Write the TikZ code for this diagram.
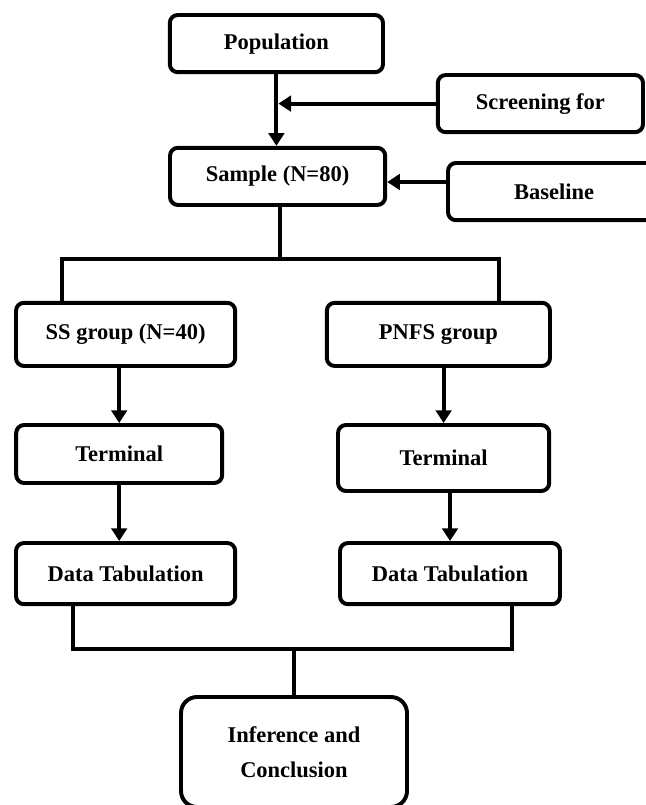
\documentclass[tikz,border=0pt]{standalone}
\usepackage{fontspec}
\setmainfont{Liberation Serif}
\usetikzlibrary{arrows.meta}
\begin{document}
\begin{tikzpicture}[line width=2.8pt]
            %
            % `block' is used for all the boxes.
            % `wire' is used for plain joining lines.
            % `flow' is used for the arrows.
            \tikzstyle{block} = [draw,fill=white,rounded corners=2mm,align=center,
                font=\fontsize{16}{25}\selectfont\bfseries,inner sep=0pt]
            \tikzstyle{wire} = [draw,line cap=rect]
            \tikzstyle{flow} = [draw,-{Triangle[width=11pt,length=9pt]}]
            \useasboundingbox (0,0) rectangle (16.125,-20.125);
            %
            % Top row
            \node[block,minimum width=5.33cm,minimum height=1.43cm] (pop) at (6.91,-1.09) {Population};
            \node[block,minimum width=5.13cm,minimum height=1.43cm] (screen) at (13.51,-2.59) {Screening for};
            \node[block,minimum width=5.38cm,minimum height=1.43cm] (sample) at (6.94,-4.41) {Sample (N=80)};
            \node[block,minimum width=5.3cm,minimum height=1.43cm] (baseline) at (13.85,-4.79) {Baseline};
            %
            % Groups
            \node[block,minimum width=5.48cm,minimum height=1.58cm] (ss) at (3.14,-8.36) {SS group (N=40)};
            \node[block,minimum width=5.58cm,minimum height=1.58cm] (pnfs) at (10.96,-8.36) {PNFS group};
            \node[block,minimum width=5.15cm,minimum height=1.45cm] (term1) at (2.98,-11.35) {Terminal};
            \node[block,minimum width=5.28cm,minimum height=1.65cm] (term2) at (11.09,-11.45) {Terminal};
            \node[block,minimum width=5.48cm,minimum height=1.53cm] (dt1) at (3.14,-14.34) {Data Tabulation};
            \node[block,minimum width=5.5cm,minimum height=1.53cm] (dt2) at (11.25,-14.34) {Data Tabulation};
            %
            % Last box
            \node[block,rounded corners=4mm,minimum width=5.65cm,minimum height=2.75cm] (inf) at (7.35,-18.8) {Inference and\\Conclusion};
            %
            % Joints
            \coordinate (split) at (7.0,-6.475);
            \coordinate (bl) at (1.55,-6.475);
            \coordinate (br) at (12.475,-6.475);
            \coordinate (jl) at (1.825,-16.225);
            \coordinate (jr) at (12.8,-16.225);
            \coordinate (jm) at (inf.north |- jl);
            %
            % Arrows
            \draw[flow] (pop.south) -- (pop.south |- sample.north);
            \draw[flow] (screen.west) -- ([xshift=1.4pt]pop.south |- screen.west);
            \draw[flow] ([yshift=-0.14cm]baseline.west |- sample.east) -- ([yshift=-0.14cm]sample.east);
            \draw[flow] (ss.south -| term1.north) -- (term1.north);
            \draw[flow] (term1.south) -- (term1.south |- dt1.north);
            \draw[flow] (pnfs.south -| term2.north) -- (term2.north);
            \draw[flow] (dt2.north |- term2.south) -- (dt2.north);
            %
            % Lines
            \draw[wire] (sample.south -| split) -- (split);
            \draw[wire] (ss.north -| bl) -- (bl) -- (br) -- (pnfs.north -| br);
            \draw[wire] (dt1.south -| jl) -- (jl) -- (jr) -- (dt2.south -| jr);
            \draw[wire] (jm) -- (inf.north);
        \end{tikzpicture}
\end{document}
